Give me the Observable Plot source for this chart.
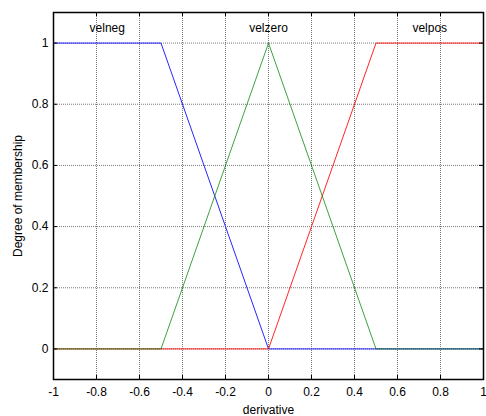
<!DOCTYPE html>
<html><head><meta charset="utf-8">
<script src="https://cdn.jsdelivr.net/npm/d3@7"></script>
<script src="https://cdn.jsdelivr.net/npm/@observablehq/plot@0.6"></script>
<style>body{margin:0;background:#fff;} svg{display:block;}</style>
</head><body><div id="chart"></div>
<script>
const velnegX = [-1, -0.5, 0, 1];
const velnegY = [1, 1, 0, 0];
const velzeroX = [-1, -0.5, 0, 0.5, 1];
const velzeroY = [0, 0, 1, 0, 0];
const velposX = [-1, 0, 0.5, 1];
const velposY = [0, 0, 1, 1];
const mfNames = ["velneg", "velzero", "velpos"];
const mfLabelX = [-0.75, 0, 0.75];
const mfLabelY = [1.05, 1.05, 1.05];
const xTicks = [-1, -0.8, -0.6, -0.4, -0.2, 0, 0.2, 0.4, 0.6, 0.8, 1];
const yTicks = [0, 0.2, 0.4, 0.6, 0.8, 1];

const W = 486, H = 416, mL = 53, mR = 3, mT = 12, mB = 37;
const fw = W - mL - mR, fh = H - mT - mB;
const tl = 4;
const pts = (xs, ys) => xs.map((x, i) => ({x, y: ys[i]}));
const fmt = d => String(+d.toFixed(1));
const grid = {stroke: "#6a6a6a", strokeOpacity: 0.9, strokeDasharray: "1,1", strokeWidth: 1};

const chart = Plot.plot({
  width: W, height: H,
  marginLeft: mL, marginRight: mR, marginTop: mT, marginBottom: mB,
  style: {fontFamily: "'Liberation Sans', Arial, sans-serif", fontSize: "12px", color: "#000", background: "#fff"},
  x: {domain: [-1, 1]},
  y: {domain: [-0.1, 1.1]},
  marks: [
    Plot.gridX(xTicks, grid),
    Plot.gridY(yTicks, grid),
    Plot.line(pts(velnegX, velnegY), {x: "x", y: "y", stroke: "#0000ff", strokeWidth: 1, strokeOpacity: 0.85}),
    Plot.line(pts(velposX, velposY), {x: "x", y: "y", stroke: "#ff0000", strokeWidth: 1, strokeOpacity: 0.85}),
    Plot.line(pts(velzeroX, velzeroY), {x: "x", y: "y", stroke: "#008000", strokeWidth: 1, strokeOpacity: 0.75}),
    Plot.text(mfNames, {x: (d, i) => mfLabelX[i], y: (d, i) => mfLabelY[i], text: d => d, fontSize: 12, fill: "#000"}),
    Plot.ruleX(xTicks, {x: d => d, insetTop: fh - tl, stroke: "#000"}),
    Plot.ruleX(xTicks, {x: d => d, insetBottom: fh - tl, stroke: "#000"}),
    Plot.ruleY(yTicks, {y: d => d, insetRight: fw - tl, stroke: "#000"}),
    Plot.ruleY(yTicks, {y: d => d, insetLeft: fw - tl, stroke: "#000"}),
    Plot.axisX(xTicks, {tickSize: 0, tickPadding: 8, tickFormat: fmt, label: "derivative", labelAnchor: "center", labelArrow: "none", labelOffset: 34, fontSize: 12}),
    Plot.axisY(yTicks, {tickSize: 0, tickPadding: 5, tickFormat: fmt, label: "Degree of membership", labelAnchor: "center", labelArrow: "none", labelOffset: 40, fontSize: 12}),
    Plot.frame({stroke: "#000", strokeWidth: 1.5})
  ]
});
document.getElementById("chart").append(chart);
</script></body></html>
